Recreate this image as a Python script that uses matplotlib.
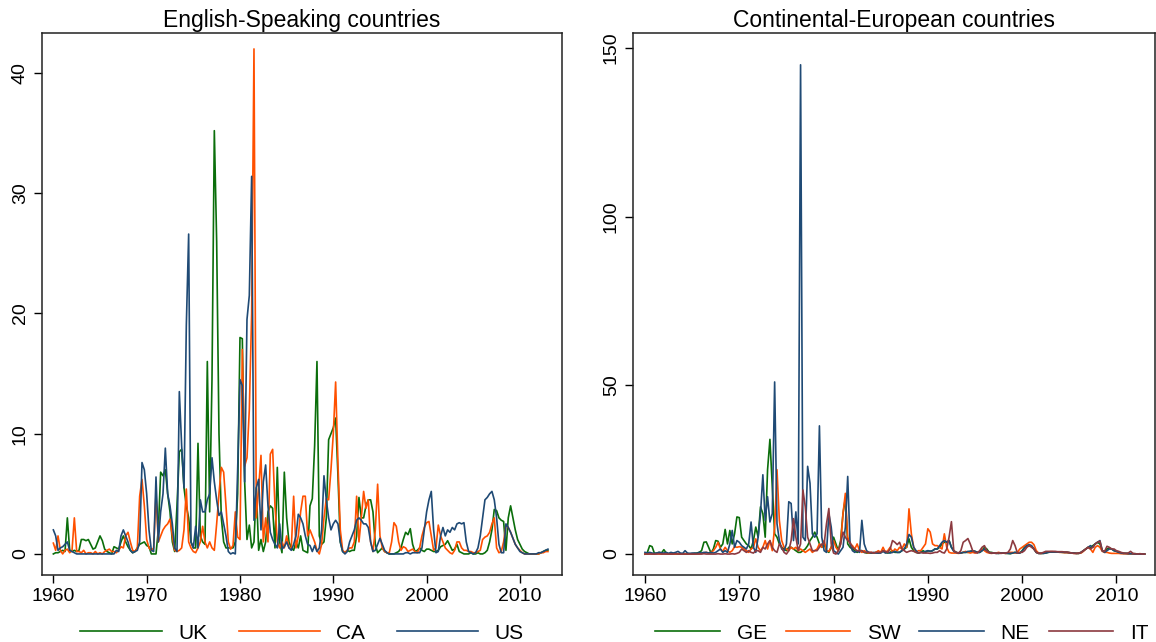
import numpy as np
import matplotlib
matplotlib.use("Agg")
import matplotlib.pyplot as plt

plt.rcParams['font.family'] = ['Liberation Sans', 'DejaVu Sans']

# quarterly observations, 1960q1 .. 2013q1 (one row per year)
uk = [
    0.0, 0.1, 0.1, 0.2,  0.3, 0.2, 3.0, 0.3,  0.2, 0.3, 0.2, 0.3,  1.2, 1.2, 1.1, 1.2,
    0.8, 0.4, 0.5, 1.0,  1.5, 1.1, 0.4, 0.2,  0.1, 0.0, 0.6, 0.5,  0.4, 1.0, 1.5, 1.0,
    0.6, 0.3, 0.1, 0.2,  0.5, 0.8, 0.9, 1.0,
    0.7, 0.6, 0.0, 0.0,  0.0, 2.0, 6.8, 6.5,  7.0, 5.0, 3.5, 1.0,  0.2, 4.0, 8.5, 8.7,
    5.5, 4.0, 3.0, 1.0,  0.5, 0.5, 9.2, 1.5,  1.0, 0.8, 16.0, 3.5, 14.5, 35.2, 26.0, 10.0,
    3.0, 1.0, 0.5, 0.5,  0.5, 0.5, 1.0, 5.0,
    18.0, 17.9, 6.0, 1.2, 2.4, 0.5, 1.0, 5.5, 0.3, 1.2, 0.2, 1.0,  3.5, 4.0, 3.8, 0.5,
    7.2, 1.0, 0.1, 6.8,  3.0, 1.0, 0.5, 0.3,  1.0, 0.5, 1.5, 0.3,  0.2, 0.1, 4.0, 4.6,
    9.0, 16.0, 1.5, 0.8, 1.0, 3.0, 9.5, 10.0,
    10.5, 11.3, 6.5, 1.0, 0.2, 0.1, 0.3, 0.2, 0.3, 0.3, 1.5, 4.7,  3.0, 3.0, 4.0, 4.5,
    4.5, 3.5, 0.8, 0.1,  0.3, 0.5, 0.2, 0.1,  0.0, 0.0, 0.0, 0.1,  0.2, 0.5, 1.2, 1.8,
    1.6, 2.1, 0.8, 0.2,  0.3, 0.5, 0.3, 0.2,
    0.4, 0.4, 0.3, 0.2,  0.2, 0.3, 0.6, 0.7,  0.8, 1.1, 0.7, 0.3,  0.4, 0.8, 0.2, 0.1,
    0.0, 0.0, 0.0, 0.1,  0.0, 0.0, 0.1, 0.0,  0.0, 0.1, 0.3, 1.0,  2.0, 3.7, 3.6, 3.0,
    2.8, 2.7, 0.3, 3.0,  4.0, 3.0, 2.0, 1.2,
    0.8, 0.4, 0.2, 0.1,  0.0, 0.0, 0.0, 0.0,  0.0, 0.1, 0.2, 0.3,  0.3,
]
ca = [
    0.9, 0.3, 1.5, 0.3,  0.0, 0.3, 0.4, 0.1,  0.3, 3.0, 0.2, 0.2,  0.1, 0.3, 0.0, 0.1,
    0.1, 0.0, 0.2, 0.0,  0.1, 0.0, 0.2, 0.3,  0.4, 0.2, 0.2, 0.1,  0.3, 0.6, 0.5, 1.5,
    1.8, 1.0, 0.3, 0.2,  0.5, 4.8, 6.2, 4.0,
    1.2, 0.5, 0.3, 0.5,  5.0, 1.0, 1.5, 2.0,  2.3, 2.5, 2.9, 1.5,  0.3, 0.2, 0.3, 0.5,
    2.0, 5.4, 1.0, 0.5,  0.2, 0.1, 0.5, 1.0,  2.3, 1.0, 0.5, 1.0,  0.5, 0.3, 2.5, 5.0,
    7.2, 6.8, 4.0, 1.0,  0.4, 0.7, 3.5, 1.4,
    1.2, 17.0, 7.3, 8.0, 12.0, 20.0, 42.0, 3.0, 5.5, 8.2, 1.0, 3.0, 1.0, 8.3, 8.7, 4.0,
    1.0, 0.5, 1.0, 0.5,  1.5, 0.5, 0.5, 4.8,  0.5, 1.5, 3.5, 4.8,  4.8, 1.5, 2.0, 1.5,
    1.0, 0.3, 0.0, 0.8,  3.0, 4.6, 4.5, 7.0,
    10.0, 14.3, 7.5, 2.0, 0.3, 0.1, 0.3, 0.5, 0.5, 1.0, 4.8, 1.0,  3.0, 5.2, 3.8, 4.5,
    1.0, 0.2, 2.0, 5.8,  1.5, 0.5, 0.2, 0.1,  0.1, 1.0, 2.6, 2.3,  1.0, 0.3, 0.6, 0.5,
    0.2, 0.3, 0.4, 0.2,  0.1, 0.5, 1.5, 2.2,
    2.6, 2.7, 1.5, 0.3,  0.5, 2.4, 1.5, 1.0,  0.5, 0.3, 0.1, 0.0,  0.3, 1.0, 1.0, 0.5,
    0.3, 0.3, 0.2, 0.2,  0.1, 0.1, 0.2, 0.3,  1.2, 1.4, 1.5, 1.8,  2.5, 3.0, 0.5, 0.1,
    0.2, 1.0, 2.4, 2.2,  1.8, 1.3, 0.8, 0.5,
    0.3, 0.1, 0.0, 0.0,  0.0, 0.0, 0.0, 0.0,  0.0, 0.1, 0.1, 0.2,  0.2,
]
us = [
    2.0, 1.5, 0.3, 0.5,  0.6, 0.8, 1.0, 0.3,  0.2, 0.1, 0.0, 0.0,  0.0, 0.0, 0.0, 0.0,
    0.0, 0.0, 0.0, 0.0,  0.0, 0.0, 0.0, 0.0,  0.0, 0.0, 0.0, 0.3,  0.2, 1.5, 2.0, 1.5,
    1.0, 0.3, 0.1, 0.2,  0.3, 1.0, 7.6, 7.0,
    5.0, 2.0, 0.3, 0.2,  6.4, 1.0, 3.5, 5.0,  8.8, 5.0, 4.0, 2.5,  0.5, 0.2, 13.5, 9.0,
    5.5, 19.0, 26.6, 1.0, 0.5, 2.3, 0.5, 4.5, 3.5, 3.5, 4.5, 5.0,  8.0, 6.0, 4.5, 3.2,
    3.5, 2.5, 1.5, 0.2,  0.0, 0.1, 0.0, 7.0,
    14.5, 14.0, 6.0, 19.5, 21.5, 31.4, 2.8, 5.5, 6.2, 2.0, 6.0, 7.4, 4.0, 1.8, 1.2, 0.8,
    0.5, 2.5, 0.4, 0.6,  1.0, 0.5, 0.3, 0.8,  1.5, 3.3, 3.0, 2.5,  1.5, 0.8, 0.7, 0.2,
    0.7, 0.2, 0.5, 2.0,  6.5, 4.5, 3.0, 2.0,
    2.5, 2.8, 2.5, 1.0,  0.2, 0.0, 0.2, 1.0,  1.5, 2.0, 2.8, 3.0,  2.8, 2.5, 2.5, 2.2,
    1.0, 0.2, 0.3, 0.8,  1.3, 0.8, 0.3, 0.1,  0.0, 0.0, 0.0, 0.0,  0.0, 0.0, 0.0, 0.1,
    0.1, 0.0, 0.1, 0.1,  0.1, 0.1, 0.5, 2.0,
    3.5, 4.5, 5.2, 2.0,  0.1, 0.2, 1.5, 2.2,  1.5, 2.0, 1.8, 2.2,  2.0, 2.5, 2.6, 2.5,
    2.6, 1.0, 0.2, 0.1,  0.0, 0.1, 0.5, 1.5,  3.0, 4.5, 4.7, 5.0,  5.2, 4.5, 3.0, 0.8,
    0.1, 0.1, 2.5, 2.2,  1.8, 1.3, 0.8, 0.5,
    0.2, 0.1, 0.0, 0.0,  0.0, 0.0, 0.0, 0.0,  0.1, 0.1, 0.2, 0.3,  0.4,
]

ge = [
    0.0, 0.5, 2.5, 2.2,  0.2, 0.3, 0.5, 0.3,  1.3, 0.3, 0.1, 0.0,  0.2, 0.0, 0.1, 0.0,
    0.0, 0.1, 0.0, 0.1,  0.0, 0.2, 0.3, 0.5,  1.0, 3.5, 3.6, 2.0,  0.3, 1.5, 4.0, 3.8,
    2.0, 3.0, 7.3, 3.0,  7.0, 3.0, 6.0, 11.0,
    10.8, 5.0, 4.0, 3.0, 2.5, 1.5, 4.0, 8.0,  5.0, 14.0, 12.0, 5.0, 25.0, 34.0, 20.0, 6.0,
    5.0, 3.0, 2.0, 1.5,  1.0, 2.0, 2.0, 1.5,  1.0, 0.5, 0.5, 1.0,  1.5, 2.5, 4.0, 5.0,
    6.5, 5.0, 3.0, 2.0,  3.0, 1.0, 0.5, 2.0,
    5.0, 3.0, 1.0, 4.0,  12.0, 16.5, 3.0, 2.0, 1.5, 1.0, 0.5, 1.0,  1.0, 0.5, 0.3, 0.3,
    0.3, 0.3, 0.5, 0.3,  0.5, 1.0, 0.5, 0.3,  0.5, 1.0, 0.5, 0.5,  0.5, 1.0, 1.5, 2.0,
    4.5, 2.0, 1.0, 0.5,  0.3, 0.5, 1.0, 0.5,
    1.0, 0.8, 1.0, 1.5,  1.5, 2.0, 3.0, 3.5,  3.5, 4.0, 2.0, 1.0,  0.5, 0.3, 0.3, 0.5,
    0.5, 0.5, 0.8, 1.0,  0.8, 0.5, 0.5, 1.0,  2.0, 1.5, 0.5, 0.5,  0.3, 0.3, 0.2, 0.3,
    0.3, 0.2, 0.2, 0.1,  0.3, 0.5, 0.3, 0.3,
    1.0, 2.0, 2.5, 2.5,  2.3, 1.5, 0.5, 0.2,  0.2, 0.2, 0.3, 0.5,  0.6, 0.6, 0.6, 0.6,
    0.6, 0.5, 0.5, 0.5,  0.4, 0.3, 0.3, 0.2,  0.2, 0.5, 1.0, 1.5,  2.0, 1.8, 2.5, 3.0,
    3.5, 3.0, 1.0, 0.8,  1.5, 1.8, 1.5, 1.0,
    0.8, 0.5, 0.3, 0.2,  0.2, 0.2, 0.1, 0.1,  0.1, 0.0, 0.0, 0.0,  0.0,
]
sw = [
    0.0, 0.0, 0.1, 0.0,  0.0, 0.1, 0.0, 0.0,  0.1, 0.0, 0.0, 0.1,  0.0, 0.0, 0.1, 0.0,
    0.0, 0.1, 0.0, 0.0,  0.1, 0.0, 0.1, 0.1,  0.2, 0.3, 0.5, 0.3,  0.5, 1.0, 2.0, 3.5,
    1.5, 0.8, 2.0, 1.0,  0.5, 1.0, 2.2, 2.0,
    2.2, 2.0, 1.5, 1.0,  0.5, 1.5, 2.0, 4.5,  2.0, 1.0, 2.0, 4.0,  1.5, 4.0, 1.0, 8.0,
    25.0, 10.0, 4.0, 2.0, 1.5, 1.0, 2.0, 1.5, 2.0, 1.0, 1.5, 1.0,  0.5, 1.0, 1.5, 0.5,
    1.0, 1.5, 3.0, 2.0,  4.0, 1.0, 0.8, 2.0,
    4.0, 2.0, 1.0, 3.0,  12.0, 18.0, 5.0, 3.0, 2.5, 1.5, 3.0, 1.0,  0.5, 1.0, 0.5, 0.3,
    0.5, 0.3, 0.5, 1.0,  0.5, 2.0, 0.5, 1.0,  2.0, 0.5, 1.5, 1.0,  2.0, 1.5, 3.0, 2.0,
    13.4, 6.0, 2.0, 0.5, 1.0, 1.0, 2.0, 3.0,
    7.5, 6.5, 3.0, 2.5,  2.5, 2.0, 1.5, 6.0,  2.0, 0.5, 0.3, 0.3,  0.3, 0.2, 0.3, 0.5,
    0.8, 0.5, 0.3, 0.5,  0.3, 0.5, 0.8, 1.5,  1.0, 0.5, 0.3, 0.2,  0.3, 0.3, 0.5, 0.3,
    0.3, 0.2, 0.3, 0.5,  0.5, 0.3, 0.5, 1.5,
    2.0, 2.5, 3.0, 3.5,  3.5, 2.8, 1.0, 0.3,  0.2, 0.3, 0.5, 0.6,  0.7, 0.7, 0.6, 0.6,
    0.5, 0.5, 0.4, 0.4,  0.3, 0.3, 0.2, 0.2,  0.2, 0.3, 0.8, 1.5,  2.0, 1.5, 0.5, 2.0,
    2.5, 2.0, 0.8, 0.5,  0.5, 0.3, 0.2, 0.2,
    0.2, 0.2, 0.1, 0.1,  0.1, 0.0, 0.1, 0.0,  0.0, 0.0, 0.1, 0.0,  0.0,
]
ne = [
    0.5, 0.3, 0.5, 0.3,  0.2, 0.3, 0.5, 0.4,  0.3, 0.5, 0.2, 0.5,  0.3, 0.5, 0.8, 0.3,
    0.2, 1.0, 0.3, 0.2,  0.3, 0.3, 0.2, 0.5,  0.3, 0.5, 0.5, 0.3,  0.5, 0.3, 0.5, 1.0,
    1.5, 0.5, 1.0, 0.5,  3.0, 7.0, 2.0, 4.0,
    3.5, 2.5, 2.0, 1.5,  3.0, 9.5, 2.0, 0.5,  5.0, 12.0, 23.5, 10.0, 17.0, 9.5, 12.0, 51.0,
    9.0, 4.0, 1.5, 1.0,  3.0, 15.5, 15.0, 4.0, 12.5, 3.0, 145.0, 5.0, 4.0, 26.0, 21.0, 6.0,
    5.0, 6.0, 38.0, 5.0, 1.0, 0.5, 12.0, 8.0,
    1.0, 0.5, 0.0, 1.0,  2.0, 8.0, 23.0, 3.0,  1.0, 0.5, 1.0, 0.5,  10.0, 3.0, 1.0, 0.5,
    0.3, 0.5, 0.3, 0.3,  0.3, 0.8, 0.3, 0.5,  0.3, 0.5, 0.8, 0.5,  0.5, 1.0, 1.5, 3.0,
    5.8, 5.0, 2.0, 1.0,  0.3, 0.5, 0.5, 0.8,
    1.0, 0.8, 1.0, 1.5,  1.5, 2.5, 3.5, 4.0,  3.5, 4.0, 2.0, 0.8,  0.5, 0.3, 0.3, 0.5,
    0.5, 0.8, 0.8, 1.0,  0.8, 0.5, 0.5, 1.0,  1.5, 1.0, 0.5, 0.3,  0.3, 0.2, 0.2, 0.3,
    0.3, 0.3, 0.2, 0.2,  0.3, 0.5, 0.3, 0.3,
    0.8, 1.8, 2.5, 2.8,  2.5, 1.5, 0.5, 0.2,  0.2, 0.2, 0.3, 0.5,  0.6, 0.6, 0.6, 0.6,
    0.6, 0.6, 0.5, 0.5,  0.4, 0.3, 0.3, 0.2,  0.2, 0.5, 1.0, 1.5,  2.0, 2.5, 2.0, 3.0,
    3.5, 4.0, 1.0, 0.5,  1.0, 1.5, 1.5, 1.0,
    0.8, 0.5, 0.3, 0.2,  0.2, 0.1, 0.1, 0.1,  0.0, 0.0, 0.0, 0.0,  0.0,
]
it = [
    0.0, 0.0, 0.0, 0.0,  0.0, 0.0, 0.1, 0.0,  0.0, 0.0, 0.0, 0.0,  0.0, 0.1, 0.0, 0.0,
    0.0, 0.0, 0.0, 0.0,  0.0, 0.0, 0.0, 0.0,  0.0, 0.1, 0.0, 0.0,  0.0, 0.0, 0.0, 0.1,
    0.0, 0.0, 0.1, 0.0,  0.0, 0.1, 0.0, 0.2,
    0.5, 1.5, 1.0, 0.5,  1.0, 0.5, 0.3, 1.0,  1.0, 0.5, 2.0, 1.5,  3.0, 4.0, 2.0, 1.0,
    0.5, 3.0, 2.0, 0.5,  0.0, 1.0, 4.0, 10.5, 5.0, 1.0, 3.0, 19.0, 14.0, 5.0, 3.0, 1.0,
    1.0, 1.0, 2.0, 3.0,  3.0, 9.0, 13.5, 3.0,
    0.3, 0.0, 1.0, 3.0,  6.5, 5.0, 4.0, 3.5,  2.0, 1.5, 1.0, 1.0,  1.0, 0.5, 0.5, 0.5,
    0.5, 0.3, 0.5, 0.5,  0.5, 1.0, 0.8, 0.5,  1.5, 4.0, 3.5, 2.8,  3.5, 1.5, 1.0, 0.5,
    0.8, 1.0, 0.8, 0.5,  0.3, 0.5, 0.3, 0.3,
    0.3, 0.2, 0.3, 0.5,  0.5, 1.0, 0.5, 0.3,  1.5, 5.0, 9.6, 1.0,  0.5, 0.3, 1.0, 3.5,
    4.0, 4.6, 3.0, 1.0,  0.5, 0.3, 1.0, 2.0,  2.5, 1.0, 0.5, 0.3,  0.3, 0.2, 0.3, 0.2,
    0.3, 0.3, 0.5, 1.5,  4.0, 2.5, 0.3, 0.5,
    0.5, 1.0, 2.0, 2.5,  2.0, 1.5, 0.5, 0.2,  0.2, 0.5, 0.8, 0.8,  0.8, 0.8, 0.8, 0.7,
    0.7, 0.7, 0.6, 0.6,  0.5, 0.3, 0.2, 0.2,  0.3, 0.5, 1.0, 1.5,  2.0, 1.5, 2.0, 3.0,
    3.5, 3.8, 1.0, 0.8,  2.3, 2.0, 1.5, 1.5,
    1.0, 0.8, 0.5, 0.3,  0.2, 0.3, 0.8, 0.2,  0.1, 0.0, 0.1, 0.0,  0.0,
]

quarters = 1960 + np.arange(len(uk)) / 4

green = '#0b6e0b'
orange = '#ff5000'
navy = '#1f4a75'
maroon = '#8c3a40'

fig = plt.figure(figsize=(11.56, 6.42), dpi=100)
ax1 = fig.add_axes([0.0363, 0.1044, 0.4498, 0.8443])
ax2 = fig.add_axes([0.5476, 0.1044, 0.4516, 0.8443])

ax1.plot(quarters, uk, color=green, lw=1.2, label='UK')
ax1.plot(quarters, ca, color=orange, lw=1.2, label='CA')
ax1.plot(quarters, us, color=navy, lw=1.2, label='US')
ax1.set_xlim(1958.78, 2014.5)
ax1.set_ylim(-1.75, 43.33)
ax1.set_yticks([0, 10, 20, 30, 40])
ax1.set_title('English-Speaking countries', fontsize=16.5, pad=4)
ax1.legend(loc='upper center', bbox_to_anchor=(0.5, -0.055), ncol=3, frameon=False,
           fontsize=15, handlelength=3.9, columnspacing=1.5, handletextpad=0.8)

ax2.plot(quarters, ge, color=green, lw=1.2, label='GE')
ax2.plot(quarters, sw, color=orange, lw=1.2, label='SW')
ax2.plot(quarters, ne, color=navy, lw=1.2, label='NE')
ax2.plot(quarters, it, color=maroon, lw=1.2, label='IT')
ax2.set_xlim(1958.73, 2014.1)
ax2.set_ylim(-6.2, 154.45)
ax2.set_yticks([0, 50, 100, 150])
ax2.set_title('Continental-European countries', fontsize=16.5, pad=4)
ax2.legend(loc='upper center', bbox_to_anchor=(0.515, -0.055), ncol=4, frameon=False,
           fontsize=15, handlelength=3.1, columnspacing=0.9, handletextpad=0.8)

for ax in (ax1, ax2):
    ax.set_xticks([1960, 1970, 1980, 1990, 2000, 2010])
    ax.tick_params(axis='both', labelsize=14, length=6, width=1, direction='out')
    for lab in ax.get_yticklabels():
        lab.set_rotation(90)
        lab.set_va('center')
    for s in ax.spines.values():
        s.set_linewidth(1.1)
        s.set_color('#222222')

fig.savefig('out.png', dpi=100)
